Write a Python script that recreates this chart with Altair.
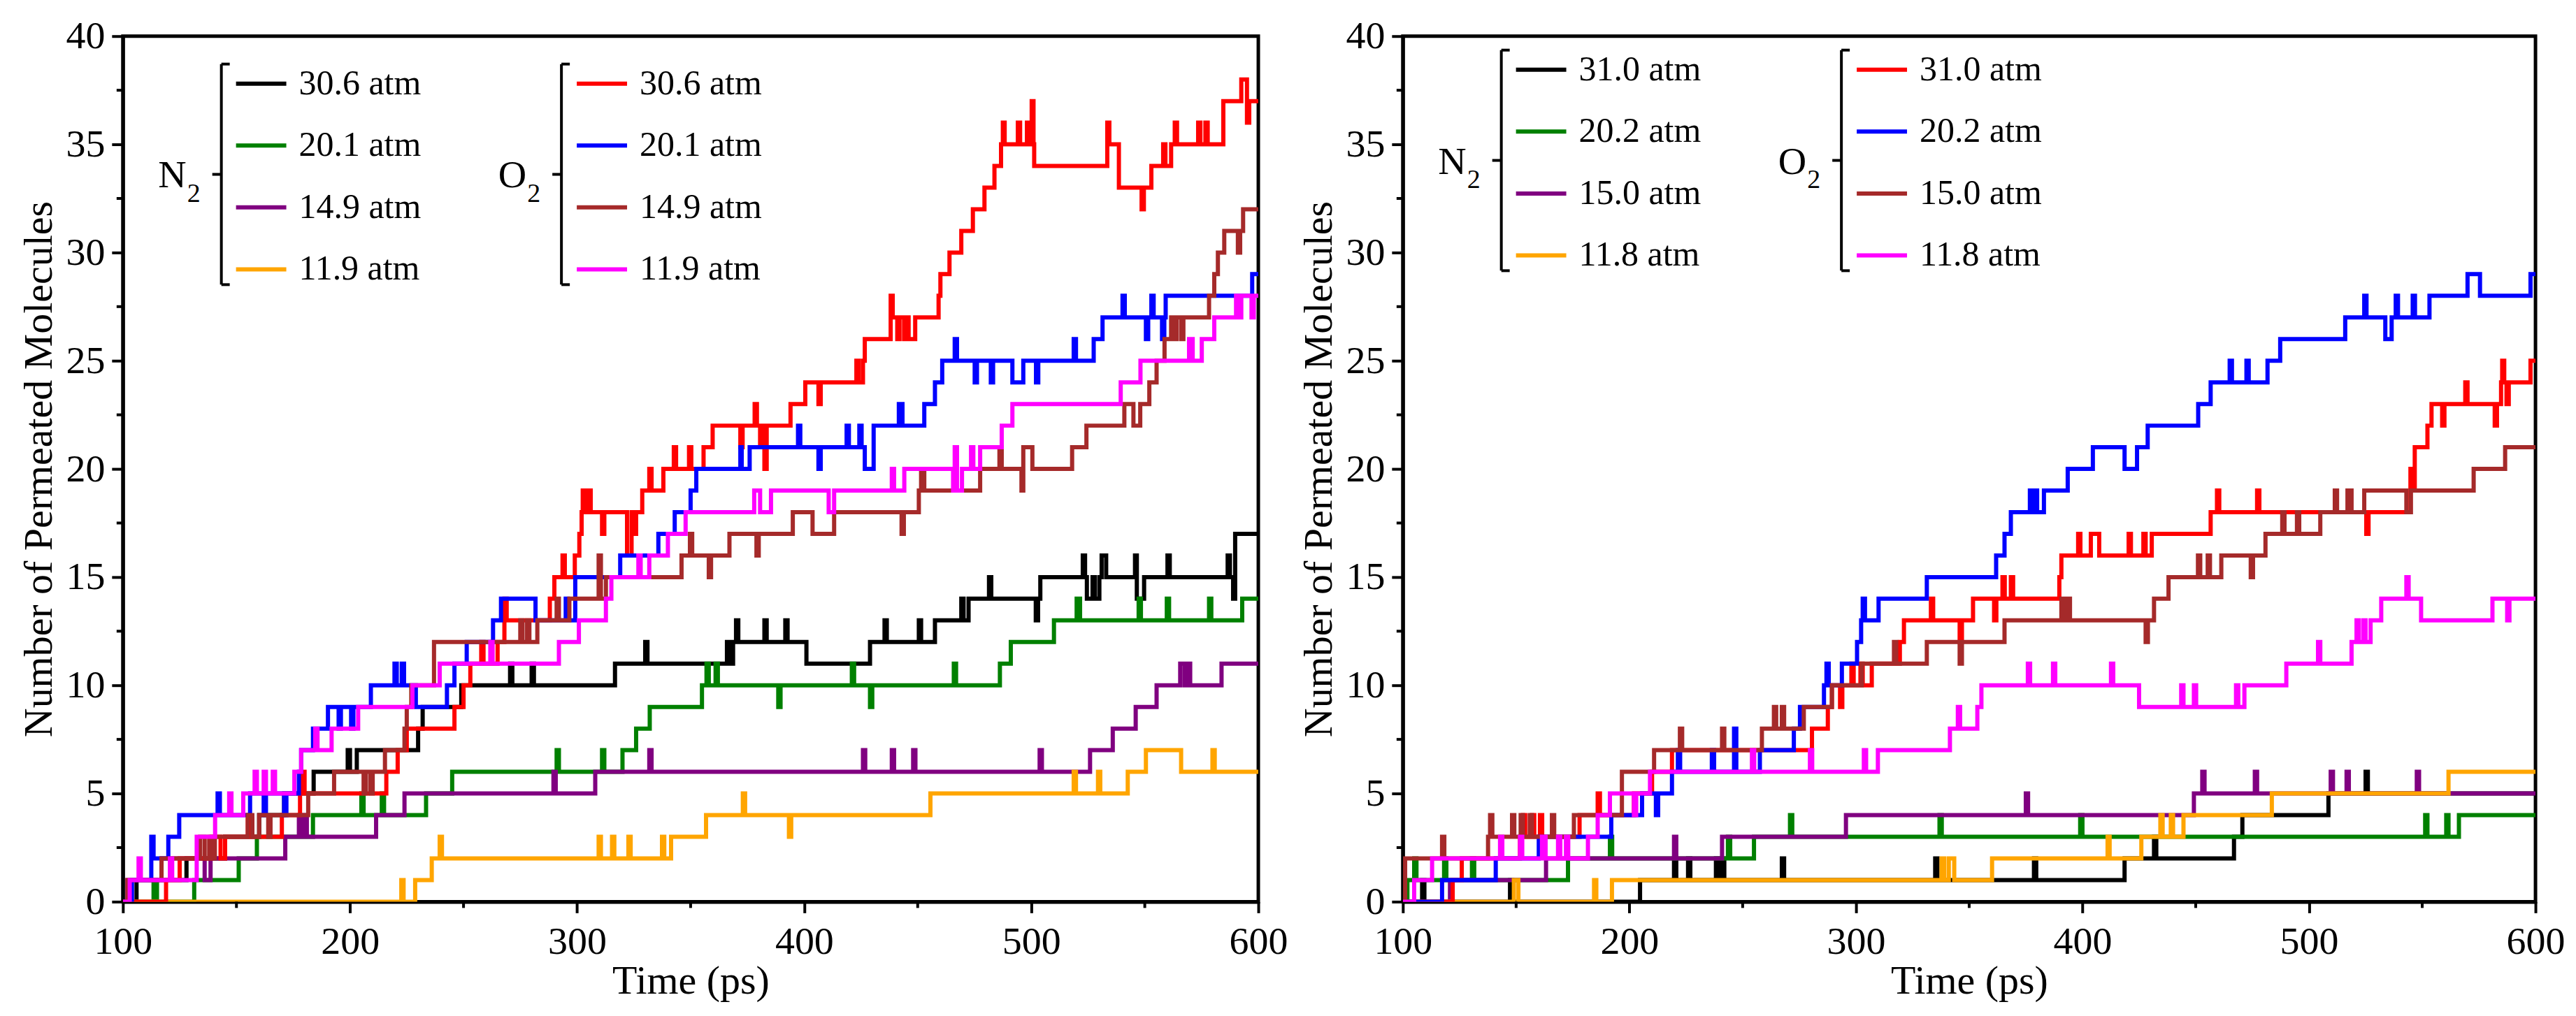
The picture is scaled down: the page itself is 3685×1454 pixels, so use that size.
import altair as alt
import pandas as pd

FONT = "Liberation Serif"

TIME_TICKS = [100, 200, 300, 400, 500, 600]
TIME_MINOR = [150, 250, 350, 450, 550]
COUNT_TICKS = [0, 5, 10, 15, 20, 25, 30, 35, 40]
COUNT_MINOR = [2.5, 7.5, 12.5, 17.5, 22.5, 27.5, 32.5, 37.5]

KEYS = ["N2_a", "N2_b", "N2_c", "N2_d", "O2_a", "O2_b", "O2_c", "O2_d"]
COLORS = ["#000000", "#008000", "#800080", "#FFA500", "#FF0000", "#0000FF", "#A52A2A", "#FF00FF"]
GROUP_NAMES = ["N", "O"]

LEFT_N2_LABELS = ["30.6 atm", "20.1 atm", "14.9 atm", "11.9 atm"]
LEFT_O2_LABELS = ["30.6 atm", "20.1 atm", "14.9 atm", "11.9 atm"]
RIGHT_N2_LABELS = ["31.0 atm", "20.2 atm", "15.0 atm", "11.8 atm"]
RIGHT_O2_LABELS = ["31.0 atm", "20.2 atm", "15.0 atm", "11.8 atm"]

# ---------------- left panel (time ps, count) ----------------
L_N2_A = [(100,0),(106,1),(128,2),(145,3),(160,4),(171,5),(184,6),(199,7),(200,6),(203,7),(230,8),(232,9),(249,10),(270.5,11),(271.5,10),(280,11),(281,10),(316.7,11),(330,12),(331,11),(366,12),(367,11),(368.7,12),(370,13),(371,12),(382.5,13),(383.5,12),(391.7,13),(392.7,12),(401,11),(429,12),(435.4,13),(436.4,12),(450.5,13),(451.5,12),(457.6,13),(469.2,14),(470.2,13),(472.4,14),(481.4,15),(482.4,14),(502,13),(503,14),(504,15),(522.7,16),(523.7,15),(524.5,14),(527,15),(528,14),(530,15),(531,16),(533,15),(545.7,16),(546.5,14),(549.7,15),(560,16),(561,15),(586.5,16),(587.5,15),(588.9,14),(589.8,17),(600,17)]
L_N2_B = [(100,0),(113.5,1),(115,0),(131.4,1),(151,2),(159,3),(183.7,4),(205,5),(206,4),(214,5),(215,4),(233.5,5),(245,6),(291,7),(292,6),(311,7),(312,6),(320,7),(326,8),(332,9),(355,10),(357,11),(358,10),(361,11),(362,10),(388.6,9),(389.6,10),(421,11),(422,10),(429,9),(430,10),(465.9,11),(466.9,10),(486.2,11),(491,12),(510,13),(520,14),(521.5,13),(547.3,14),(548.3,13),(559.7,14),(560.7,13),(578.3,14),(579.3,13),(592.9,14),(600,14)]
L_N2_C = [(100,0),(102,1),(117,2),(136,1),(138.6,2),(171.5,3),(177.5,4),(178.5,3),(180,4),(181,3),(211.5,4),(224,5),(289.6,6),(290.6,5),(308,6),(331.8,7),(332.8,6),(425.9,7),(426.9,6),(438.6,7),(439.6,6),(448,7),(449,6),(503.7,7),(504.7,6),(525.9,7),(535.9,8),(546,9),(555.2,10),(565.6,11),(567.5,10),(569,11),(570,10),(583.8,11),(600,11)]
L_N2_D = [(100,0),(222.6,1),(223.6,0),(228.7,1),(236,2),(239.5,3),(240.5,2),(309.5,3),(310.5,2),(315.4,3),(316.4,2),(322.6,3),(323.6,2),(337.4,3),(338.4,2),(341.4,3),(356.8,4),(373,5),(374,4),(393.3,3),(394.3,4),(455.6,5),(518.7,6),(519.7,5),(529.4,6),(530.4,5),(542.5,6),(550.5,7),(566,6),(579.8,7),(580.8,6),(600,6)]
L_O2_A = [(100,0),(119,1),(125,2),(139,3),(143,2),(145,3),(155,4),(156,3),(170,4),(178,5),(179,6),(180,5),(216,6),(221,7),(225,8),(246,9),(250,10),(253,11),(257.8,12),(258.8,11),(265,12),(268,14),(269,13),(288,14),(290,15),(293.6,16),(294.6,15),(299,16),(301,17),(302,18),(302.5,19),(303.5,18),(305,19),(306,18),(311,17),(312,18),(322,16),(324,18),(325,17),(326,18),(328.7,19),(331.8,20),(332.8,19),(338,20),(342.6,21),(343.6,20),(349.3,21),(350.3,20),(355.7,21),(359.7,22),(371.9,21),(372.9,22),(378.2,23),(379.2,22),(380.6,21),(381.5,22),(382.5,20),(383.5,22),(394,23),(400.5,24),(406.3,23),(407.3,24),(423,25),(424,24),(425.9,25),(426.7,26),(438.1,28),(439,27),(441,26),(442,27),(444,26),(445,27),(446,26),(448.9,27),(459.2,28),(460,29),(464,30),(469.2,31),(474.3,32),(479.4,33),(483.8,34),(486.7,35),(487.5,36),(488.3,35),(494.1,36),(495.1,35),(498.1,36),(499.1,35),(500.2,37),(501,35),(501.3,34),(533.5,36),(534.4,35),(538.6,33),(548.6,32),(549.6,33),(552.9,34),(558.1,35),(559.1,34),(561.6,35),(563.2,36),(564.2,35),(573.5,36),(574.5,35),(576.7,36),(577.7,35),(584.6,37),(592.5,38),(595,36),(596,37),(600,37)]
L_O2_B = [(100,0),(104,1),(112.5,3),(113.5,2),(120,3),(124.8,4),(141.7,5),(142.7,4),(156,5),(162,4),(163,5),(171,4),(172,5),(177.5,6),(178.5,7),(183.7,8),(190.3,9),(195,8),(196,9),(200.5,8),(201.5,9),(209.2,10),(219.6,11),(220.6,10),(222.8,11),(223.8,10),(229,9),(242.7,10),(246,11),(251.4,12),(263,13),(266.5,14),(281.7,13),(295,14),(296,13),(299.2,15),(319,16),(335.8,17),(343,18),(350,19),(352.5,20),(371.9,21),(372.5,20),(376,21),(397.3,22),(398.3,21),(406.3,20),(407.3,21),(418.7,22),(419.7,21),(424.3,22),(425.3,21),(426.7,20),(430.6,22),(441.7,23),(443.3,22),(452.9,23),(457.6,24),(460.8,25),(466.3,26),(467.3,25),(475.1,24),(476.1,25),(482.2,24),(483.2,25),(491.7,24),(496.5,25),(502.1,24),(503.1,25),(518.7,26),(519.7,25),(527.5,26),(531.4,27),(540.2,28),(541.2,27),(550.5,26),(551.5,27),(552.9,28),(553.9,27),(557.6,26),(558.6,27),(559.2,28),(597.3,29),(600,29)]
L_O2_C = [(100,0),(102,1),(117,2),(134,3),(136,2),(138,3),(139.6,2),(140.5,3),(155,4),(157,3),(160,4),(164,3),(165,4),(181.6,5),(193,6),(206,5),(207,6),(209,5),(210,6),(215.4,7),(224,8),(225,9),(227,10),(237,12),(275,13),(276,12),(278,13),(279,12),(282.5,13),(291,14),(292,13),(296.6,14),(309.5,16),(310.5,14),(312.7,15),(346,16),(349.7,17),(350.7,16),(358,15),(359,16),(367.1,17),(379,16),(380,17),(395,18),(403.7,17),(413.2,18),(442.9,17),(443.9,18),(450.5,19),(451.5,20),(452.9,19),(477.5,20),(486,21),(487,20),(495.7,19),(496.5,21),(500.5,20),(518,21),(524.3,22),(541,23),(545,22),(548,23),(552,24),(555.2,25),(558.7,26),(561.6,27),(563,26),(564,27),(566,26),(567,27),(578.3,28),(580.6,29),(582.2,30),(585,31),(591,30),(592,31),(593.3,32),(600,32)]
L_O2_D = [(100,0),(103,1),(106.9,2),(107.9,1),(120.7,2),(121.7,1),(132.5,3),(140.6,4),(146.8,5),(147.8,4),(153,5),(158,6),(159,5),(162,6),(163,5),(166,6),(167,5),(175.5,6),(178.5,7),(184.7,8),(185.7,7),(191.9,8),(203.6,9),(227.5,10),(239.5,11),(261.8,12),(262.8,11),(292,12),(300.8,13),(312.7,14),(315.1,15),(327,16),(328,15),(331.8,16),(340,17),(347.8,18),(378,19),(380.6,18),(385.4,19),(410.8,18),(413.2,19),(438.6,20),(439.6,19),(444.1,20),(465.6,19),(466.3,21),(467.3,19),(469.5,20),(473.5,21),(474.5,20),(477.5,21),(487,22),(491.7,23),(539.4,24),(548.1,25),(569.5,26),(571.1,25),(575.1,26),(580.6,27),(590.2,28),(591,27),(592.5,28),(597,27),(598,28),(600,28)]

# ---------------- right panel ----------------
R_N2_A = [(100,0),(108.5,1),(109.5,0),(147.3,1),(148.3,0),(204.7,1),(219.7,2),(220.7,1),(225.9,2),(226.9,1),(238.2,2),(239.2,1),(240.9,2),(241.9,1),(267.3,2),(268.3,1),(335,2),(336,1),(378.6,2),(379.6,1),(418.6,2),(431.6,3),(432.6,2),(466.9,3),(470.6,4),(508.6,5),(525,6),(526,5),(600,5)]
R_N2_B = [(100,0),(102,1),(105,2),(106,1),(118.2,2),(119.2,1),(130.5,2),(131.5,1),(172.9,2),(191.4,3),(192.4,2),(243.5,3),(244.5,2),(255,3),(270.9,4),(271.9,3),(336.9,4),(337.9,3),(399,4),(400,3),(551.3,4),(552.3,3),(560.6,4),(561.6,3),(566.2,4),(600,4)]
R_N2_C = [(100,0),(120.8,1),(163.2,2),(219.7,3),(220.7,2),(240.9,3),(295.6,4),(375,5),(376,4),(449.2,5),(452.9,6),(453.9,5),(476.1,6),(477.1,5),(509.6,6),(510.6,5),(516.6,6),(517.6,5),(547.6,6),(548.6,5),(600,5)]
R_N2_D = [(100,0),(149,1),(151,0),(184.4,1),(185.4,0),(192.3,1),(337.8,2),(339,1),(341,2),(343.4,1),(360.1,2),(411.1,3),(412,2),(426,3),(434.4,4),(435.4,3),(439,4),(440,3),(444.6,4),(483.6,5),(561.6,6),(600,6)]
R_O2_A = [(100,0),(122,1),(126,2),(151.7,3),(153,4),(154,3),(157,4),(158,3),(160.5,4),(161.5,3),(178,4),(186,5),(187,4),(202,5),(210,6),(218.8,7),(280.6,8),(287.6,9),(289.4,10),(293,9),(294,10),(298,11),(299,10),(302,11),(303,10),(307,11),(319.4,12),(321.2,13),(333.1,14),(334.1,13),(345.8,12),(346.8,13),(351.7,14),(361,13),(362,14),(364.7,15),(365.7,14),(368.4,15),(369.4,14),(389.8,15),(390.7,16),(398.1,17),(399.1,16),(403.7,17),(407.4,16),(420.4,17),(421.4,16),(426.9,17),(427.9,16),(430.6,17),(456.6,18),(459.4,19),(460.4,18),(477.1,19),(478.1,18),(525.3,17),(526.3,18),(544.8,20),(546,19),(546.7,21),(552.3,22),(554.1,23),(558.8,22),(559.8,23),(569,24),(570,23),(582,22),(583,23),(584.8,24),(585.3,25),(586.2,24),(587.2,23),(588.2,24),(597.8,25),(600,25)]
R_O2_B = [(100,0),(117.3,1),(141,2),(160,3),(192,4),(205.6,5),(211.7,4),(212.7,5),(218.8,6),(221.4,7),(222.4,6),(236.4,7),(237.4,6),(246.2,8),(247.2,6),(257.6,7),(272.6,8),(275.3,9),(285.9,10),(287,11),(288,10),(293.8,11),(300.5,12),(302.3,13),(303,14),(304,13),(310,14),(331.3,15),(361.9,16),(365.6,17),(368.4,18),(376.8,19),(378.6,18),(379.6,19),(380,18),(383,19),(393.5,20),(404.6,21),(418.6,20),(424.1,21),(428.8,22),(451.1,23),(456.6,24),(465,25),(466,24),(472.4,25),(473.4,24),(481.7,25),(487.3,26),(516,27),(524.4,28),(525.4,27),(533.7,26),(536.5,27),(538.3,28),(539.3,27),(545.8,28),(546.8,27),(553.2,28),(570,29),(575.5,28),(597.8,29),(600,29)]
R_O2_C = [(100,0),(101,2),(117.3,3),(118.3,2),(137.6,3),(138.5,4),(139.5,3),(148.2,4),(149.2,3),(152,4),(153,3),(156,4),(157,3),(165.8,4),(166.8,3),(175.5,4),(196.7,6),(210.9,7),(222.3,8),(223.3,7),(240.9,8),(241.9,7),(258.5,8),(263.8,9),(264.8,8),(267.3,9),(268.3,8),(277,9),(289.4,10),(302.6,11),(316.8,12),(317.8,11),(331.3,12),(345.8,11),(346.8,12),(365.6,13),(390.7,14),(391.7,13),(393.5,14),(394.5,13),(427.9,12),(428.9,13),(431.6,14),(438,15),(451,16),(452,15),(455.3,16),(456.3,15),(461.3,16),(474.3,15),(475.3,16),(480.8,17),(488.2,18),(489.2,17),(494.7,18),(495.7,17),(505,18),(511.4,19),(512.4,18),(517,19),(518.8,18),(524.4,19),(543,18),(545,19),(572.7,20),(586.6,21),(600,21)]
R_O2_D = [(100,0),(105,1),(112.9,2),(142.9,3),(143.9,2),(151.7,3),(152.7,2),(161.4,3),(163,2),(168.5,3),(169.5,2),(172,3),(173,2),(181.7,3),(186,4),(191.4,5),(202,4),(203,5),(209.1,6),(254.1,7),(255.1,6),(279.7,7),(280.7,6),(303.5,7),(304.5,6),(309.7,7),(341.5,8),(345,9),(346,8),(353.6,9),(355.4,10),(375.9,11),(376.9,10),(387,11),(388,10),(412.6,11),(413.6,10),(425,9),(443.6,10),(444.6,9),(449.2,10),(450.2,9),(467.8,10),(468.8,9),(471.5,10),(490,11),(504,12),(505,11),(518.8,12),(521,13),(522,12),(524,13),(525,12),(527.2,13),(531.9,14),(543,15),(544,14),(549.5,13),(581,14),(587.5,13),(588.5,14),(600,14)]

LEFT_SERIES = [L_N2_A, L_N2_B, L_N2_C, L_N2_D, L_O2_A, L_O2_B, L_O2_C, L_O2_D]
RIGHT_SERIES = [R_N2_A, R_N2_B, R_N2_C, R_N2_D, R_O2_A, R_O2_B, R_O2_C, R_O2_D]

# ---------------- layout constants (pixels) ----------------
LEFT_W, RIGHT_W, PLOT_H = 1626, 1622, 1240
ROW0, ROWSTEP = 58, 88.7
SAMPLE_X0, SAMPLE_LEN, TEXT_X, COLSTEP = 162, 72, 252, 488
BRACKET_X, BR_TOP, BR_BOT, BR_MID = 141, 30, 346, 188
LABEL_BASE, SUB_BASE = 207, 228
MAJOR_TICK, MINOR_TICK = 16, 9


def to_df(series):
    rows = []
    for key, pts in zip(KEYS, series):
        for i, (t, v) in enumerate(pts):
            rows.append({"key": key, "t": t, "v": v, "i": i})
    return pd.DataFrame(rows)


X_AXIS = alt.Axis(values=TIME_TICKS, title="Time (ps)", format="d",
                  tickSize=MAJOR_TICK,
                  labelFont=FONT, labelFontSize=56, labelColor="black", labelPadding=14,
                  labelFlush=False, labelOverlap=False,
                  titleFont=FONT, titleFontSize=58, titleFontWeight="normal", titleColor="black",
                  titlePadding=0, domainColor="black", domainWidth=5,
                  tickColor="black", tickWidth=4, grid=False)

Y_AXIS = alt.Axis(values=COUNT_TICKS, title="Number of Permeated Molecules", format="d",
                  tickSize=MAJOR_TICK,
                  labelFont=FONT, labelFontSize=56, labelColor="black", labelPadding=10,
                  labelFlush=False, labelOverlap=False,
                  titleFont=FONT, titleFontSize=58, titleFontWeight="normal", titleColor="black",
                  titlePadding=8, domainColor="black", domainWidth=5,
                  tickColor="black", tickWidth=4, grid=False)


def panel(series, n2_labels, o2_labels, W, H, dy):
    xs = alt.Scale(domain=[100, 600], nice=False, zero=False)
    ys = alt.Scale(domain=[0, 40], nice=False, zero=False)
    color = alt.Color("key:N", scale=alt.Scale(domain=KEYS, range=COLORS), legend=None)

    def X(field):
        return alt.X(field, scale=xs, axis=X_AXIS)

    def Y(field):
        return alt.Y(field, scale=ys, axis=Y_AXIS)

    def T(px):
        return 100 + px * 500.0 / W

    def V(py):
        return 40 - (py + dy) * 40.0 / H

    lines = alt.Chart(to_df(series)).mark_line(
        interpolate="step-after", strokeWidth=6, clip=True
    ).encode(x=X("t:Q"), y=Y("v:Q"), color=color, order=alt.Order("i:Q"))

    # minor ticks (outside the plot, like the major axis ticks)
    xminor = alt.Chart(pd.DataFrame({"t": TIME_MINOR})).mark_rule(color="black", strokeWidth=4).encode(
        x=X("t:Q"), y=alt.value(H), y2=alt.value(H + MINOR_TICK))
    yminor = alt.Chart(pd.DataFrame({"v": COUNT_MINOR})).mark_rule(color="black", strokeWidth=4).encode(
        y=Y("v:Q"), x=alt.value(0), x2=alt.value(-MINOR_TICK))

    leg = []
    for c, labels in enumerate([n2_labels, o2_labels]):
        for r, lab in enumerate(labels):
            leg.append({
                "key": KEYS[c * 4 + r], "label": lab,
                "t0": T(SAMPLE_X0 + c * COLSTEP), "t1": T(SAMPLE_X0 + SAMPLE_LEN + c * COLSTEP),
                "tt": T(TEXT_X + c * COLSTEP), "v": V(ROW0 + r * ROWSTEP),
            })
    leg = pd.DataFrame(leg)

    samples = alt.Chart(leg).mark_rule(strokeWidth=6).encode(
        x=X("t0:Q"), x2="t1:Q", y=Y("v:Q"), color=color)
    texts = alt.Chart(leg).mark_text(
        align="left", baseline="middle", font=FONT, fontSize=50, color="black"
    ).encode(x=X("tt:Q"), y=Y("v:Q"), text="label:N")

    segs, names = [], []
    for c, nm in enumerate(GROUP_NAMES):
        bx = BRACKET_X + c * (COLSTEP - 1)
        segs += [
            {"a": T(bx), "a2": T(bx), "b": V(BR_TOP), "b2": V(BR_BOT)},
            {"a": T(bx), "a2": T(bx + 12), "b": V(BR_TOP), "b2": V(BR_TOP)},
            {"a": T(bx), "a2": T(bx + 12), "b": V(BR_BOT), "b2": V(BR_BOT)},
            {"a": T(bx - 13), "a2": T(bx), "b": V(BR_MID), "b2": V(BR_MID)},
        ]
        names.append({"name": nm, "sub": "2", "tx": T(bx - 50), "ts": T(bx - 49),
                      "vb": V(LABEL_BASE), "vs": V(SUB_BASE)})
    segs = pd.DataFrame(segs)
    names = pd.DataFrame(names)

    brackets = alt.Chart(segs).mark_rule(strokeWidth=4, color="black").encode(
        x=X("a:Q"), x2="a2:Q", y=Y("b:Q"), y2="b2:Q")
    main_lbl = alt.Chart(names).mark_text(
        align="right", baseline="alphabetic", font=FONT, fontSize=56, color="black"
    ).encode(x=X("tx:Q"), y=Y("vb:Q"), text="name:N")
    sub_lbl = alt.Chart(names).mark_text(
        align="left", baseline="alphabetic", font=FONT, fontSize=38, color="black"
    ).encode(x=X("ts:Q"), y=Y("vs:Q"), text="sub:N")

    return alt.layer(lines, xminor, yminor, samples, texts, brackets, main_lbl, sub_lbl).properties(
        width=W, height=H)


left = panel(LEFT_SERIES, LEFT_N2_LABELS, LEFT_O2_LABELS, LEFT_W, PLOT_H, 10)
right = panel(RIGHT_SERIES, RIGHT_N2_LABELS, RIGHT_O2_LABELS, RIGHT_W, PLOT_H, -10)

chart = alt.hconcat(left, right, spacing=207, bounds="flush").properties(
    padding={"left": 17, "top": 12, "right": 5, "bottom": 5}
).configure_view(stroke="black", strokeWidth=5)

chart.save("out.html", embed_options={"renderer": "svg", "actions": False})
